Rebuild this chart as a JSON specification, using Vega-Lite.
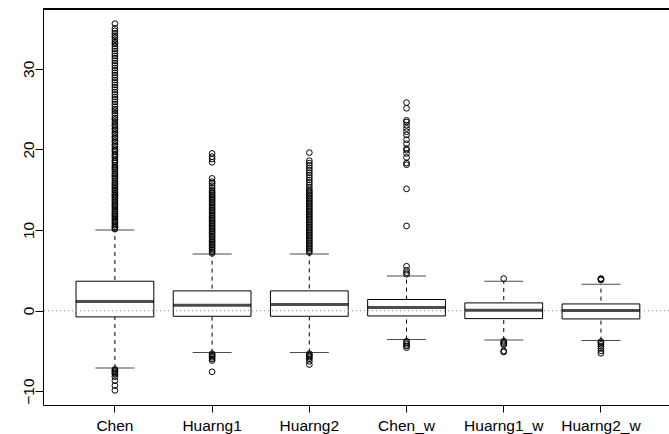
{
  "$schema": "https://vega.github.io/schema/vega-lite/v6.json",
  "width": 626,
  "height": 396,
  "autosize": {"type": "none"},
  "padding": {"left": 43, "top": 9, "right": 0, "bottom": 29},
  "background": "white",
  "config": {
    "view": {"stroke": null},
    "font": "Liberation Sans",
    "axis": {"grid": false, "domain": true, "domainColor": "black", "domainWidth": 1, "tickColor": "black", "labelColor": "black", "labelFont": "Liberation Sans", "labelFontSize": 15.5, "titleFontSize": 0}
  },
  "datasets": {
    "stats": [
      {"g": "Chen", "lo": -7.13, "q1": -0.79, "med": 1.12, "q3": 3.64, "hi": 10.0},
      {"g": "Huarng1", "lo": -5.22, "q1": -0.71, "med": 0.66, "q3": 2.44, "hi": 7.03},
      {"g": "Huarng2", "lo": -5.2, "q1": -0.71, "med": 0.75, "q3": 2.44, "hi": 7.03},
      {"g": "Chen_w", "lo": -3.6, "q1": -0.67, "med": 0.37, "q3": 1.37, "hi": 4.3},
      {"g": "Huarng1_w", "lo": -3.65, "q1": -1.0, "med": 0.04, "q3": 0.95, "hi": 3.64},
      {"g": "Huarng2_w", "lo": -3.73, "q1": -1.04, "med": 0.0, "q3": 0.82, "hi": 3.27}
    ],
    "out": [
      {"g":"Chen","v":10.1},{"g":"Chen","v":10.3},{"g":"Chen","v":10.4},{"g":"Chen","v":10.6},{"g":"Chen","v":10.8},{"g":"Chen","v":11.0},{"g":"Chen","v":11.1},{"g":"Chen","v":11.3},{"g":"Chen","v":11.5},{"g":"Chen","v":11.7},{"g":"Chen","v":11.9},{"g":"Chen","v":12.0},{"g":"Chen","v":12.2},{"g":"Chen","v":12.4},{"g":"Chen","v":12.6},{"g":"Chen","v":12.8},{"g":"Chen","v":13.0},{"g":"Chen","v":13.1},{"g":"Chen","v":13.3},{"g":"Chen","v":13.5},{"g":"Chen","v":13.7},{"g":"Chen","v":13.9},{"g":"Chen","v":14.1},{"g":"Chen","v":14.3},{"g":"Chen","v":14.4},{"g":"Chen","v":14.6},{"g":"Chen","v":14.8},{"g":"Chen","v":15.0},{"g":"Chen","v":15.2},{"g":"Chen","v":15.4},{"g":"Chen","v":15.6},{"g":"Chen","v":15.8},{"g":"Chen","v":16.0},{"g":"Chen","v":16.3},{"g":"Chen","v":16.5},{"g":"Chen","v":16.7},{"g":"Chen","v":16.9},{"g":"Chen","v":17.1},{"g":"Chen","v":17.4},{"g":"Chen","v":17.6},{"g":"Chen","v":17.8},{"g":"Chen","v":18.0},{"g":"Chen","v":18.3},{"g":"Chen","v":18.5},{"g":"Chen","v":18.7},{"g":"Chen","v":19.0},{"g":"Chen","v":19.2},{"g":"Chen","v":19.4},{"g":"Chen","v":19.7},{"g":"Chen","v":19.9},{"g":"Chen","v":20.1},{"g":"Chen","v":20.4},{"g":"Chen","v":20.6},{"g":"Chen","v":20.9},{"g":"Chen","v":21.1},{"g":"Chen","v":21.4},{"g":"Chen","v":21.6},{"g":"Chen","v":21.9},{"g":"Chen","v":22.1},{"g":"Chen","v":22.4},{"g":"Chen","v":22.6},{"g":"Chen","v":22.9},{"g":"Chen","v":23.1},{"g":"Chen","v":23.4},{"g":"Chen","v":23.7},{"g":"Chen","v":23.9},{"g":"Chen","v":24.2},{"g":"Chen","v":24.5},{"g":"Chen","v":24.8},{"g":"Chen","v":25.0},{"g":"Chen","v":25.3},{"g":"Chen","v":25.6},{"g":"Chen","v":25.9},{"g":"Chen","v":26.2},{"g":"Chen","v":26.5},{"g":"Chen","v":26.8},{"g":"Chen","v":27.1},{"g":"Chen","v":27.4},{"g":"Chen","v":27.7},{"g":"Chen","v":28.0},{"g":"Chen","v":28.3},{"g":"Chen","v":28.6},{"g":"Chen","v":28.9},{"g":"Chen","v":29.2},{"g":"Chen","v":29.5},{"g":"Chen","v":29.8},{"g":"Chen","v":30.1},{"g":"Chen","v":30.4},{"g":"Chen","v":30.7},{"g":"Chen","v":31.0},{"g":"Chen","v":31.3},{"g":"Chen","v":31.6},{"g":"Chen","v":31.9},{"g":"Chen","v":32.2},{"g":"Chen","v":32.5},{"g":"Chen","v":32.8},{"g":"Chen","v":33.1},{"g":"Chen","v":33.3},{"g":"Chen","v":33.6},{"g":"Chen","v":33.9},{"g":"Chen","v":34.1},{"g":"Chen","v":34.4},{"g":"Chen","v":34.7},{"g":"Chen","v":35.0},{"g":"Chen","v":35.6},
      {"g":"Chen","v":-7.3},{"g":"Chen","v":-7.45},{"g":"Chen","v":-7.6},{"g":"Chen","v":-7.75},{"g":"Chen","v":-7.9},{"g":"Chen","v":-8.2},{"g":"Chen","v":-8.7},{"g":"Chen","v":-9.3},{"g":"Chen","v":-9.9},
      {"g":"Huarng1","v":7.1},{"g":"Huarng1","v":7.3},{"g":"Huarng1","v":7.5},{"g":"Huarng1","v":7.7},{"g":"Huarng1","v":7.9},{"g":"Huarng1","v":8.1},{"g":"Huarng1","v":8.3},{"g":"Huarng1","v":8.5},{"g":"Huarng1","v":8.7},{"g":"Huarng1","v":8.9},{"g":"Huarng1","v":9.1},{"g":"Huarng1","v":9.3},{"g":"Huarng1","v":9.5},{"g":"Huarng1","v":9.7},{"g":"Huarng1","v":9.9},{"g":"Huarng1","v":10.1},{"g":"Huarng1","v":10.3},{"g":"Huarng1","v":10.5},{"g":"Huarng1","v":10.7},{"g":"Huarng1","v":10.9},{"g":"Huarng1","v":11.1},{"g":"Huarng1","v":11.3},{"g":"Huarng1","v":11.5},{"g":"Huarng1","v":11.7},{"g":"Huarng1","v":11.9},{"g":"Huarng1","v":12.1},{"g":"Huarng1","v":12.3},{"g":"Huarng1","v":12.5},{"g":"Huarng1","v":12.7},{"g":"Huarng1","v":12.9},{"g":"Huarng1","v":13.1},{"g":"Huarng1","v":13.3},{"g":"Huarng1","v":13.5},{"g":"Huarng1","v":13.7},{"g":"Huarng1","v":13.9},{"g":"Huarng1","v":14.1},{"g":"Huarng1","v":14.3},{"g":"Huarng1","v":14.5},{"g":"Huarng1","v":14.7},{"g":"Huarng1","v":14.9},{"g":"Huarng1","v":15.2},{"g":"Huarng1","v":15.5},{"g":"Huarng1","v":15.8},{"g":"Huarng1","v":16.0},{"g":"Huarng1","v":16.4},{"g":"Huarng1","v":18.4},{"g":"Huarng1","v":18.8},{"g":"Huarng1","v":19.1},{"g":"Huarng1","v":19.5},
      {"g":"Huarng1","v":-5.35},{"g":"Huarng1","v":-5.5},{"g":"Huarng1","v":-5.65},{"g":"Huarng1","v":-5.8},{"g":"Huarng1","v":-6.0},{"g":"Huarng1","v":-6.2},{"g":"Huarng1","v":-7.6},
      {"g":"Huarng2","v":7.2},{"g":"Huarng2","v":7.4},{"g":"Huarng2","v":7.6},{"g":"Huarng2","v":7.8},{"g":"Huarng2","v":8.0},{"g":"Huarng2","v":8.2},{"g":"Huarng2","v":8.4},{"g":"Huarng2","v":8.6},{"g":"Huarng2","v":8.8},{"g":"Huarng2","v":9.0},{"g":"Huarng2","v":9.2},{"g":"Huarng2","v":9.4},{"g":"Huarng2","v":9.6},{"g":"Huarng2","v":9.8},{"g":"Huarng2","v":10.0},{"g":"Huarng2","v":10.2},{"g":"Huarng2","v":10.4},{"g":"Huarng2","v":10.6},{"g":"Huarng2","v":10.8},{"g":"Huarng2","v":11.0},{"g":"Huarng2","v":11.2},{"g":"Huarng2","v":11.4},{"g":"Huarng2","v":11.6},{"g":"Huarng2","v":11.8},{"g":"Huarng2","v":12.0},{"g":"Huarng2","v":12.2},{"g":"Huarng2","v":12.4},{"g":"Huarng2","v":12.6},{"g":"Huarng2","v":12.8},{"g":"Huarng2","v":13.0},{"g":"Huarng2","v":13.2},{"g":"Huarng2","v":13.4},{"g":"Huarng2","v":13.6},{"g":"Huarng2","v":13.8},{"g":"Huarng2","v":14.0},{"g":"Huarng2","v":14.2},{"g":"Huarng2","v":14.4},{"g":"Huarng2","v":14.6},{"g":"Huarng2","v":14.8},{"g":"Huarng2","v":15.0},{"g":"Huarng2","v":15.3},{"g":"Huarng2","v":15.6},{"g":"Huarng2","v":15.9},{"g":"Huarng2","v":16.2},{"g":"Huarng2","v":16.5},{"g":"Huarng2","v":16.8},{"g":"Huarng2","v":17.1},{"g":"Huarng2","v":17.4},{"g":"Huarng2","v":17.7},{"g":"Huarng2","v":18.0},{"g":"Huarng2","v":18.3},{"g":"Huarng2","v":18.6},{"g":"Huarng2","v":19.6},
      {"g":"Huarng2","v":-5.35},{"g":"Huarng2","v":-5.5},{"g":"Huarng2","v":-5.65},{"g":"Huarng2","v":-5.8},{"g":"Huarng2","v":-6.0},{"g":"Huarng2","v":-6.3},{"g":"Huarng2","v":-6.7},
      {"g":"Chen_w","v":4.5},{"g":"Chen_w","v":4.7},{"g":"Chen_w","v":5.0},{"g":"Chen_w","v":5.5},{"g":"Chen_w","v":10.5},{"g":"Chen_w","v":15.1},{"g":"Chen_w","v":18.1},{"g":"Chen_w","v":18.3},{"g":"Chen_w","v":19.0},{"g":"Chen_w","v":19.5},{"g":"Chen_w","v":19.9},{"g":"Chen_w","v":20.1},{"g":"Chen_w","v":20.7},{"g":"Chen_w","v":21.2},{"g":"Chen_w","v":21.8},{"g":"Chen_w","v":22.2},{"g":"Chen_w","v":22.6},{"g":"Chen_w","v":23.0},{"g":"Chen_w","v":23.4},{"g":"Chen_w","v":23.6},{"g":"Chen_w","v":25.1},{"g":"Chen_w","v":25.8},
      {"g":"Chen_w","v":-3.8},{"g":"Chen_w","v":-4.0},{"g":"Chen_w","v":-4.2},{"g":"Chen_w","v":-4.4},{"g":"Chen_w","v":-4.6},
      {"g":"Huarng1_w","v":3.97},
      {"g":"Huarng1_w","v":-3.8},{"g":"Huarng1_w","v":-3.95},{"g":"Huarng1_w","v":-4.1},{"g":"Huarng1_w","v":-4.25},{"g":"Huarng1_w","v":-5.0},{"g":"Huarng1_w","v":-5.15},
      {"g":"Huarng2_w","v":3.8},{"g":"Huarng2_w","v":3.9},{"g":"Huarng2_w","v":3.97},
      {"g":"Huarng2_w","v":-3.85},{"g":"Huarng2_w","v":-4.0},{"g":"Huarng2_w","v":-4.2},{"g":"Huarng2_w","v":-4.45},{"g":"Huarng2_w","v":-4.7},{"g":"Huarng2_w","v":-5.0},{"g":"Huarng2_w","v":-5.3}
    ]
  },
  "encoding": {
    "x": {
      "field": "g", "type": "nominal",
      "sort": ["Chen", "Huarng1", "Huarng2", "Chen_w", "Huarng1_w", "Huarng2_w"],
      "scale": {"type": "band", "paddingInner": 0.2, "paddingOuter": 0.32, "align": 0.531},
      "axis": {"title": null, "labelAngle": 0, "tickSize": 7, "labelPadding": 6, "labelBaseline": "top", "labelAlign": "center"}
    }
  },
  "layer": [
    {
      "data": {"name": "stats"},
      "mark": {"type": "rule", "stroke": "black", "strokeWidth": 1, "strokeDash": [4, 4]},
      "encoding": {
        "y": {"field": "lo", "type": "quantitative", "scale": {"domain": [-11.72, 37.42], "nice": false, "zero": false},
          "axis": {"title": null, "values": [-10, 0, 10, 20, 30], "labelAngle": -90, "labelAlign": "center", "labelBaseline": "alphabetic", "tickSize": 8, "labelPadding": 2}},
        "y2": {"field": "hi"}
      }
    },
    {
      "data": {"name": "stats"},
      "mark": {"type": "tick", "color": "black", "thickness": 1, "size": 39},
      "encoding": {"y": {"field": "lo", "type": "quantitative"}}
    },
    {
      "data": {"name": "stats"},
      "mark": {"type": "tick", "color": "black", "thickness": 1, "size": 39},
      "encoding": {"y": {"field": "hi", "type": "quantitative"}}
    },
    {
      "data": {"name": "stats"},
      "mark": {"type": "bar", "fill": "white", "stroke": "black", "strokeWidth": 1},
      "encoding": {"y": {"field": "q1", "type": "quantitative"}, "y2": {"field": "q3"}}
    },
    {
      "data": {"name": "out"},
      "mark": {"type": "point", "shape": "circle", "filled": false, "stroke": "black", "strokeWidth": 1, "size": 33, "opacity": 1},
      "encoding": {"y": {"field": "v", "type": "quantitative"}}
    },
    {
      "data": {"name": "stats"},
      "mark": {"type": "rule", "stroke": "#a0a0a0", "strokeWidth": 1, "strokeDash": [1, 3]},
      "encoding": {"x": null, "y": {"datum": 0, "type": "quantitative"}}
    },
    {
      "data": {"name": "stats"},
      "mark": {"type": "rule", "stroke": "black", "strokeWidth": 1},
      "encoding": {"x": null, "y": {"datum": 37.42, "type": "quantitative"}}
    },
    {
      "data": {"name": "stats"},
      "mark": {"type": "tick", "color": "black", "thickness": 3, "size": 78},
      "encoding": {"y": {"field": "med", "type": "quantitative"}}
    }
  ]
}
